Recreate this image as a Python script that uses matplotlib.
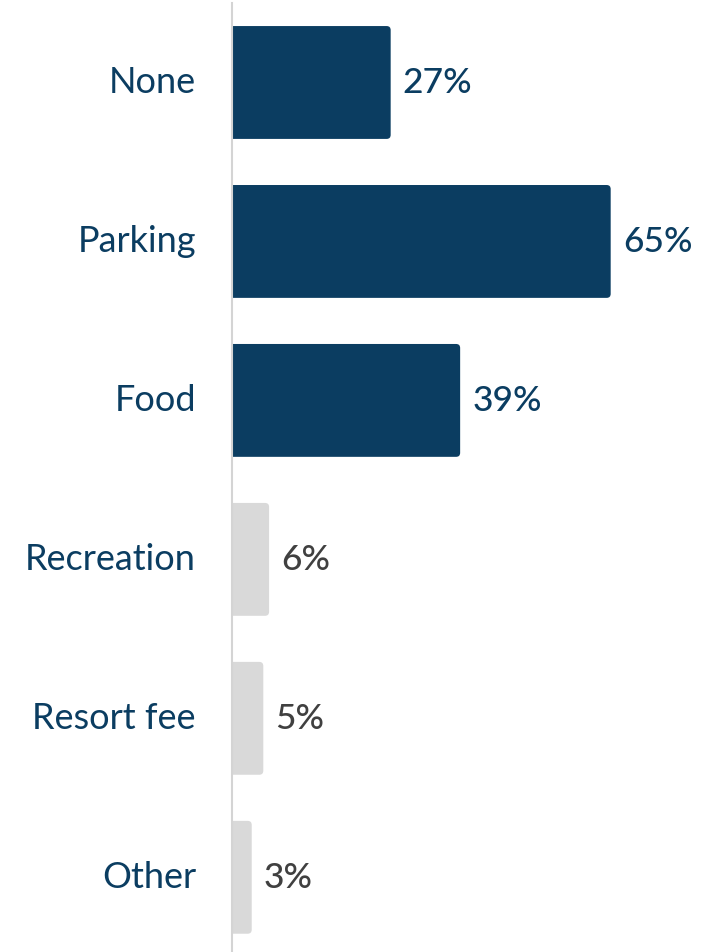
import matplotlib
matplotlib.use('Agg')
from matplotlib import pyplot as plt
from matplotlib.patches import FancyBboxPatch
import matplotlib.transforms as mtransforms
import numpy as np

categories = ['None', 'Parking', 'Food', 'Recreation', 'Resort fee', 'Other']
values = [27, 65, 39, 6, 5, 3]
highlight = [True, True, True, False, False, False]

navy = '#0b3d61'
grey_bar = '#d9d9d9'
grey_text = '#404040'

plt.rcParams['font.family'] = ['Lato', 'DejaVu Sans']

fig = plt.figure(figsize=(7.01, 9.53), dpi=100)
ax = fig.add_axes([0.331, 0.0, 0.669, 0.9958])

positions = np.arange(len(categories))
colors = [navy if h else grey_bar for h in highlight]
bars = ax.barh(positions, values, height=0.71, color=colors)

# swap plain bars for ones with rounded right corners
rounding = 0.7
aspect = (1 / 159.0) / (1 / 5.8)
for bar in bars:
    x, y = bar.get_x(), bar.get_y()
    w, h = bar.get_width(), bar.get_height()
    patch = FancyBboxPatch((x - 2, y), w + 2.4, h,
                           boxstyle='round,pad=0,rounding_size=%s' % rounding,
                           mutation_aspect=aspect,
                           facecolor=bar.get_facecolor(), edgecolor='none')
    bar.set_visible(False)
    ax.add_patch(patch)

for pos, val, h in zip(positions, values, highlight):
    ax.text(val + 2.5, pos, '%d%%' % val, va='center', ha='left',
            fontsize=25.5, fontweight='medium',
            color=navy if h else grey_text)

ax.set_xlim(0, 81)
ax.set_ylim(5.47, -0.5)
ax.set_yticks(positions)
ax.set_yticklabels(categories, fontsize=26, color=navy)
ax.tick_params(axis='y', length=0, pad=26)
ax.set_xticks([])

shift = mtransforms.ScaledTranslation(0, 3 / 72.0, fig.dpi_scale_trans)
for lab in ax.get_yticklabels():
    lab.set_transform(lab.get_transform() + shift)

for side in ['top', 'right', 'bottom']:
    ax.spines[side].set_visible(False)
ax.spines['left'].set_color('#d4d4d4')
ax.spines['left'].set_linewidth(1.5)
ax.spines['left'].set_zorder(5)

plt.savefig('out.png', dpi=100)
